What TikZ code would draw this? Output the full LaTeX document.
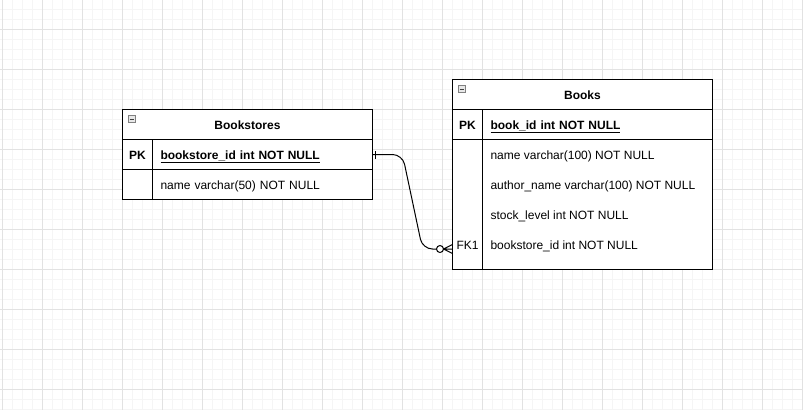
\documentclass[tikz,border=0pt]{standalone}
\usepackage{fontspec}
\setmainfont{Liberation Sans}
\usetikzlibrary{positioning}

\definecolor{gridmajor}{RGB}{226,226,226}
\definecolor{gridminor}{RGB}{245,245,245}

\begin{document}
\begin{tikzpicture}[x=1pt,y=-1pt,
    every node/.style={font=\fontsize{12pt}{14pt}\selectfont, outer sep=0pt},
    cell/.style={draw=black, fill=white, line width=1pt, minimum height=30pt, inner sep=0pt,
        text height=11.4pt, text depth=2pt},
    titlecell/.style={cell, font=\fontsize{12pt}{14pt}\selectfont\bfseries},
    keycell/.style={cell, minimum width=30pt},
    fieldcell/.style={cell, inner xsep=8pt, align=left},
    rowtext/.style={anchor=base west, inner sep=0pt},
    relation/.style={line width=1pt}]

    \useasboundingbox (0,0) rectangle (803,410);
    \fill[white] (0,0) rectangle (803,410);

    % the grid behind
    \foreach \gx in {2.5,12.5,...,802.5}
        \draw[gridminor, line width=1pt] (\gx,0) -- (\gx,410);
    \foreach \gy in {9.5,19.5,...,409.5}
        \draw[gridminor, line width=1pt] (0,\gy) -- (803,\gy);
    \foreach \gx in {2.5,42.5,...,802.5}
        \draw[gridmajor, line width=1pt] (\gx,0) -- (\gx,410);
    \foreach \gy in {29.5,69.5,...,389.5}
        \draw[gridmajor, line width=1pt] (0,\gy) -- (803,\gy);

    % Bookstores table
    \node[titlecell, minimum width=250pt, anchor=north west] (bsTitle) at (122.5,109.5) {Bookstores};
    \node[keycell, font=\fontsize{12pt}{14pt}\selectfont\bfseries, below right=0pt and 0pt of bsTitle.south west] (bsKey1) {PK};
    \node[fieldcell, text width=204pt, font=\fontsize{12pt}{14pt}\selectfont\bfseries, right=0pt of bsKey1] (bsField1) {\underline{bookstore\_id int NOT NULL}};
    \node[keycell, below=0pt of bsKey1] (bsKey2) {};
    \node[fieldcell, text width=204pt, right=0pt of bsKey2] (bsField2) {name varchar(50) NOT NULL};

    % Books table
    \node[titlecell, minimum width=260pt, anchor=north west] (bkTitle) at (452.5,79.5) {Books};
    \node[keycell, font=\fontsize{12pt}{14pt}\selectfont\bfseries, below right=0pt and 0pt of bkTitle.south west] (bkKey1) {PK};
    \node[fieldcell, text width=214pt, font=\fontsize{12pt}{14pt}\selectfont\bfseries, right=0pt of bkKey1] (bkField1) {\underline{book\_id int NOT NULL}};
    \node[keycell, minimum height=129.5pt, below=0pt of bkKey1] (bkKeyBody) {};
    \node[fieldcell, text width=214pt, minimum height=129.5pt, right=0pt of bkKeyBody] (bkFieldBody) {};
    \foreach \fieldtxt [count=\i] in {name varchar(100) NOT NULL, author\_name varchar(100) NOT NULL, stock\_level int NOT NULL, bookstore\_id int NOT NULL}
        \node[rowtext] (bkRow\i) at (490.5,129.3+30*\i) {\fieldtxt};
    \node[anchor=base, inner sep=0pt] (bkFk) at (467.5,249.3) {FK1};

    % collapse boxes
    \foreach \ix/\iy in {128/115.5, 458/85.5} {
        \draw[draw=gray, fill=gray!18, line width=0.8pt] (\ix,\iy) rectangle (\ix+7,\iy+7);
        \draw[gray!50!black, line width=1pt] (\ix+1.5,\iy+3.5) -- (\ix+5.5,\iy+3.5);
    }

    % one to zero-or-many
    \coordinate (fkEnd) at (452.5,249);
    \draw[relation, rounded corners=10pt] (bsField1.east) -- ++(30,0) -- ([xshift=-30pt]fkEnd) -- ([xshift=-16pt]fkEnd);
    \draw[relation] ([xshift=3pt,yshift=-4pt]bsField1.east) -- ([xshift=3pt,yshift=4pt]bsField1.east);
    \draw[relation, fill=white] ([xshift=-12.5pt]fkEnd) circle (3.5pt);
    \draw[relation] ([yshift=-4.5pt]fkEnd) -- ([xshift=-9pt]fkEnd) -- ([yshift=4.5pt]fkEnd)
        ([xshift=-9pt]fkEnd) -- (fkEnd);

\end{tikzpicture}
\end{document}
